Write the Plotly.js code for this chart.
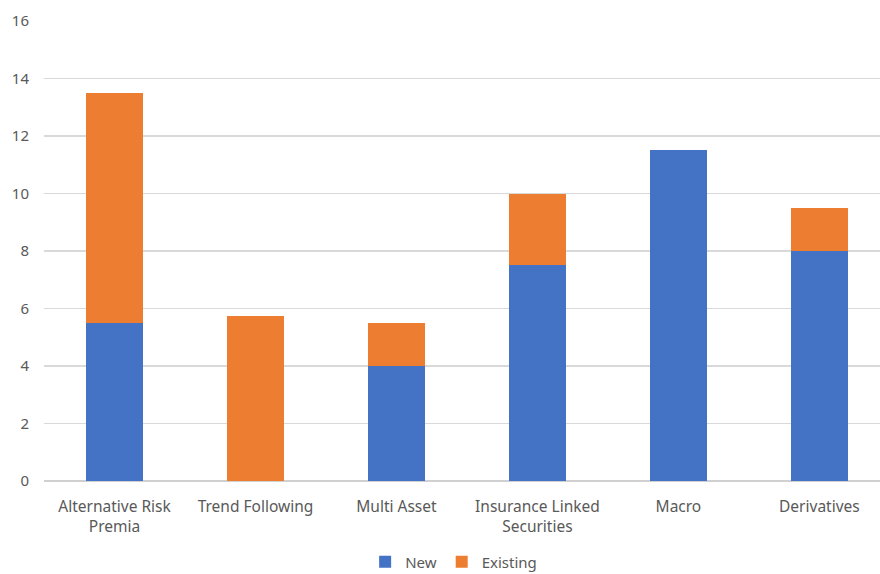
<!DOCTYPE html>
<html>
<head>
<meta charset="utf-8">
<script src="https://cdn.plot.ly/plotly-3.0.1.min.js"></script>
<style>html,body{margin:0;padding:0;background:#fff;}#chart{width:880px;height:574px;}</style>
</head>
<body>
<div id="chart"></div>
<script>
const categories = ["Alternative Risk<br>Premia", "Trend Following", "Multi Asset", "Insurance Linked<br>Securities", "Macro", "Derivatives"];
const newValues = [5.5, 0, 4, 7.5, 11.5, 8];
const existingValues = [8, 5.75, 1.5, 2.5, 0, 1.5];
const yTicks = [0, 2, 4, 6, 8, 10, 12, 14, 16];

const traces = [
  {type: "bar", name: "New", x: categories, y: newValues, marker: {color: "#4472C4"}, width: 0.4, hoverinfo: "y"},
  {type: "bar", name: "Existing", x: categories, y: existingValues, marker: {color: "#ED7D31"}, width: 0.4, hoverinfo: "y"}
];

const layout = {
  width: 880, height: 574,
  barmode: "stack",
  margin: {l: 44, r: 0, t: 21, b: 93, autoexpand: false},
  paper_bgcolor: "#fff", plot_bgcolor: "#fff",
  font: {family: "Noto Sans, Open Sans, Arial, sans-serif", size: 15, color: "#595959"},
  xaxis: {
    type: "category",
    range: [-0.5, 5.43],
    showgrid: false, showline: false, zeroline: false,
    ticks: "", ticklabelstandoff: 14,
    tickfont: {size: 15.5, color: "#595959"}
  },
  yaxis: {
    range: [0, 16], tickvals: yTicks, ticktext: yTicks.map(String),
    showgrid: true, gridcolor: "#d9d9d9", gridwidth: 1.3,
    zeroline: true, zerolinecolor: "#d0d0d0", zerolinewidth: 1.3,
    showline: false, ticks: "", ticklabelstandoff: 14,
    tickfont: {size: 15, color: "#595959"}
  },
  showlegend: true,
  legend: {orientation: "h", x: 0.49, xanchor: "center", y: -0.176, yanchor: "middle",
           font: {size: 15, color: "#595959"}, itemwidth: 30, traceorder: "normal"},
};

Plotly.newPlot("chart", traces, layout, {displayModeBar: false, staticPlot: true});
</script>
</body>
</html>
